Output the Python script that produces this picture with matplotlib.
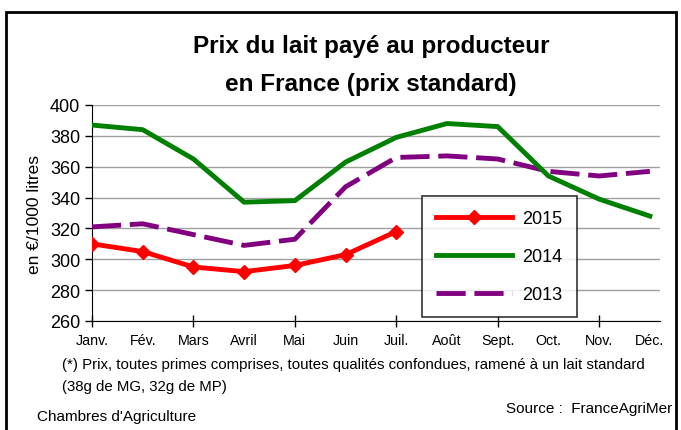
import numpy as np
import matplotlib.pyplot as plt
from matplotlib.patches import Rectangle

plt.rcParams['font.family'] = ['Liberation Sans', 'DejaVu Sans']

mois = ['Janv.', 'Fév.', 'Mars', 'Avril', 'Mai', 'Juin', 'Juil.', 'Août',
        'Sept.', 'Oct.', 'Nov.', 'Déc.']
prix_2015 = [310, 305, 295, 292, 296, 303, 318]
prix_2014 = [387, 384, 365, 337, 338, 363, 379, 388, 386, 354, 339, 328]
prix_2013 = [321, 323, 316, 309, 313, 347, 366, 367, 365, 357, 354, 357]

fig = plt.figure(figsize=(6.81, 4.31), dpi=100)
ax = fig.add_axes([92/681, 1 - 322/431, 568/681, 216/431])

x = np.arange(len(mois))
ax.plot(x[:len(prix_2015)], prix_2015, color='#ff0000', lw=3.5, marker='D',
        ms=7, label='2015', zorder=5)
ax.plot(x, prix_2014, color='#008000', lw=3.5, label='2014', zorder=4)
ax.plot(x, prix_2013, color='#800080', lw=3.5, dashes=(6, 1.8),
        label='2013', zorder=3)

ax.set_xlim(0, 11.2)
ax.set_ylim(260, 400)
ax.set_yticks(np.arange(260, 401, 20))
ax.yaxis.grid(True, color='#a0a0a0', lw=1)
ax.set_axisbelow(True)
# libellés pour chaque mois, traits tous les deux mois
ax.xaxis.remove_overlapping_locs = False
ax.set_xticks(x)
ax.set_xticklabels(mois, fontsize=10.3)
ax.set_xticks(np.arange(0, 12, 2), minor=True)
ax.tick_params(axis='x', which='major', length=0, pad=9)
ax.tick_params(axis='x', which='minor', direction='inout', length=8, width=1)
ax.tick_params(axis='y', direction='out', length=5, width=1, labelsize=13)
for s in ['top', 'right']:
    ax.spines[s].set_visible(False)
ax.set_ylabel('en €/1000 litres', fontsize=12.5, labelpad=6)

leg = ax.legend(loc='upper left', bbox_to_anchor=(330/568, 1 - 91/216),
                frameon=True, fancybox=False, edgecolor='black',
                fontsize=13, handlelength=4.2, labelspacing=1.15,
                borderpad=0.8, handletextpad=0.55, borderaxespad=0)
leg.get_frame().set_linewidth(1.2)
leg.set_zorder(10)

fig.text(371/681, 1 - 47/431, 'Prix du lait payé au producteur', ha='center',
         va='center', fontsize=17.5, fontweight='bold')
fig.text(371/681, 1 - 85/431, 'en France (prix standard)', ha='center',
         va='center', fontsize=17.5, fontweight='bold')
fig.text(62/681, 1 - 365/431,
         "(*) Prix, toutes primes comprises, toutes qualités confondues, ramené à un lait standard",
         fontsize=10.8, va='center')
fig.text(62/681, 1 - 387/431, '(38g de MG, 32g de MP)', fontsize=10.8,
         va='center')
fig.text(37/681, 1 - 417/431, "Chambres d'Agriculture", fontsize=11,
         va='center')
fig.text(672/681, 1 - 409/431, 'Source :  FranceAgriMer', fontsize=11,
         va='center', ha='right')

fig.patches.append(Rectangle((6/681, -0.1), 670/681, 1.1 - 13/431,
                             transform=fig.transFigure, fill=False,
                             edgecolor='black', lw=2))

fig.savefig('out.png', dpi=100)
